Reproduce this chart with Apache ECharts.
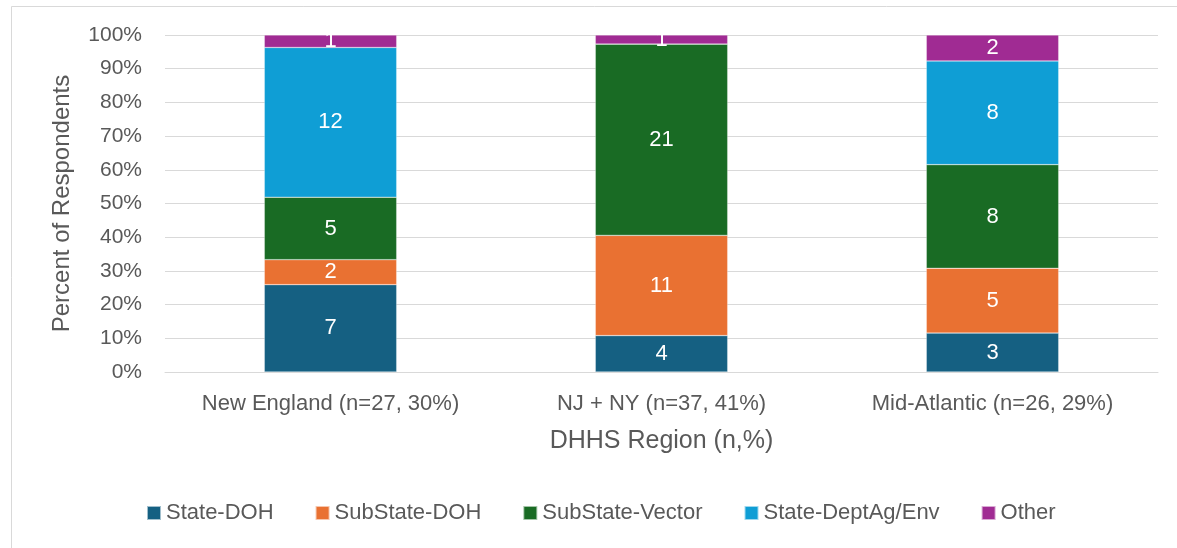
<!DOCTYPE html>
<html>
<head>
<meta charset="utf-8">
<script src="https://cdn.jsdelivr.net/npm/echarts@6/dist/echarts.min.js"></script>
<style>
  html, body { margin: 0; padding: 0; background: #fff; }
  #chart { width: 1177px; height: 548px; }
</style>
</head>
<body>
<div id="chart"></div>
<script>
// Respondent counts per DHHS region, by agency type
const regions = ['New England (n=27, 30%)', 'NJ + NY (n=37, 41%)', 'Mid-Atlantic (n=26, 29%)'];
const stateDOH = [7, 4, 3];
const subStateDOH = [2, 11, 5];
const subStateVector = [5, 21, 8];
const stateDeptAgEnv = [12, 0, 8];
const other = [1, 1, 2];

const seriesNames = ['State-DOH', 'SubState-DOH', 'SubState-Vector', 'State-DeptAg/Env', 'Other'];
const seriesCounts = [stateDOH, subStateDOH, subStateVector, stateDeptAgEnv, other];
const seriesColors = ['#156082', '#E97132', '#196B24', '#0F9ED5', '#A02B93'];

const yTicks = [0, 10, 20, 30, 40, 50, 60, 70, 80, 90, 100];

// Region totals, used to express each count as a share of the region
const totals = regions.map((_, i) => seriesCounts.reduce((s, arr) => s + arr[i], 0));

const font = '"Liberation Sans", Arial, sans-serif';
const textColor = '#595959';

const chart = echarts.init(document.getElementById('chart'), null, { renderer: 'canvas' });

const series = seriesNames.map((name, k) => ({
  name,
  type: 'bar',
  stack: 'total',
  barWidth: '40%',
  itemStyle: { color: seriesColors[k], borderColor: 'rgba(255,255,255,0.6)', borderWidth: 0.5 },
  label: {
    show: true,
    position: 'inside',
    color: '#fff',
    fontSize: 22,
    fontFamily: font,
    formatter: p => (p.data.count > 0 ? String(p.data.count) : '')
  },
  data: seriesCounts[k].map((c, i) => ({ value: (c / totals[i]) * 100, count: c }))
}));

chart.setOption({
  animation: false,
  backgroundColor: '#fff',
  textStyle: { fontFamily: font },
  graphic: [{
    type: 'rect',
    shape: { x: 11.5, y: 6.5, width: 1200, height: 600 },
    style: { fill: 'none', stroke: '#d9d9d9', lineWidth: 1 },
    silent: true
  }],
  grid: { left: 165, right: 19, top: 35, bottom: 176, containLabel: false },
  legend: {
    bottom: 19,
    left: 141,
    itemWidth: 14,
    itemHeight: 14,
    itemGap: 41,
    icon: 'rect',
    textStyle: { color: textColor, fontSize: 22, fontFamily: font },
    data: seriesNames
  },
  xAxis: {
    type: 'category',
    data: regions,
    name: 'DHHS Region (n,%)',
    nameLocation: 'middle',
    nameGap: 57,
    nameTextStyle: { color: textColor, fontSize: 25, fontFamily: font },
    axisLine: { show: true, lineStyle: { color: '#d9d9d9' } },
    axisTick: { show: false },
    axisLabel: { color: textColor, fontSize: 22, fontFamily: font, margin: 21, interval: 0, hideOverlap: false }
  },
  yAxis: {
    type: 'value',
    min: 0,
    max: 100,
    interval: 10,
    name: 'Percent of Respondents',
    nameLocation: 'middle',
    nameGap: 91,
    nameRotate: 90,
    nameTextStyle: { color: textColor, fontSize: 24, fontFamily: font },
    axisLine: { show: false },
    axisTick: { show: false },
    splitLine: { lineStyle: { color: '#d9d9d9', width: 1 } },
    axisLabel: {
      color: textColor, fontSize: 21, fontFamily: font, margin: 23,
      formatter: v => (yTicks.includes(v) ? v + '%' : '')
    }
  },
  series
});
</script>
</body>
</html>
